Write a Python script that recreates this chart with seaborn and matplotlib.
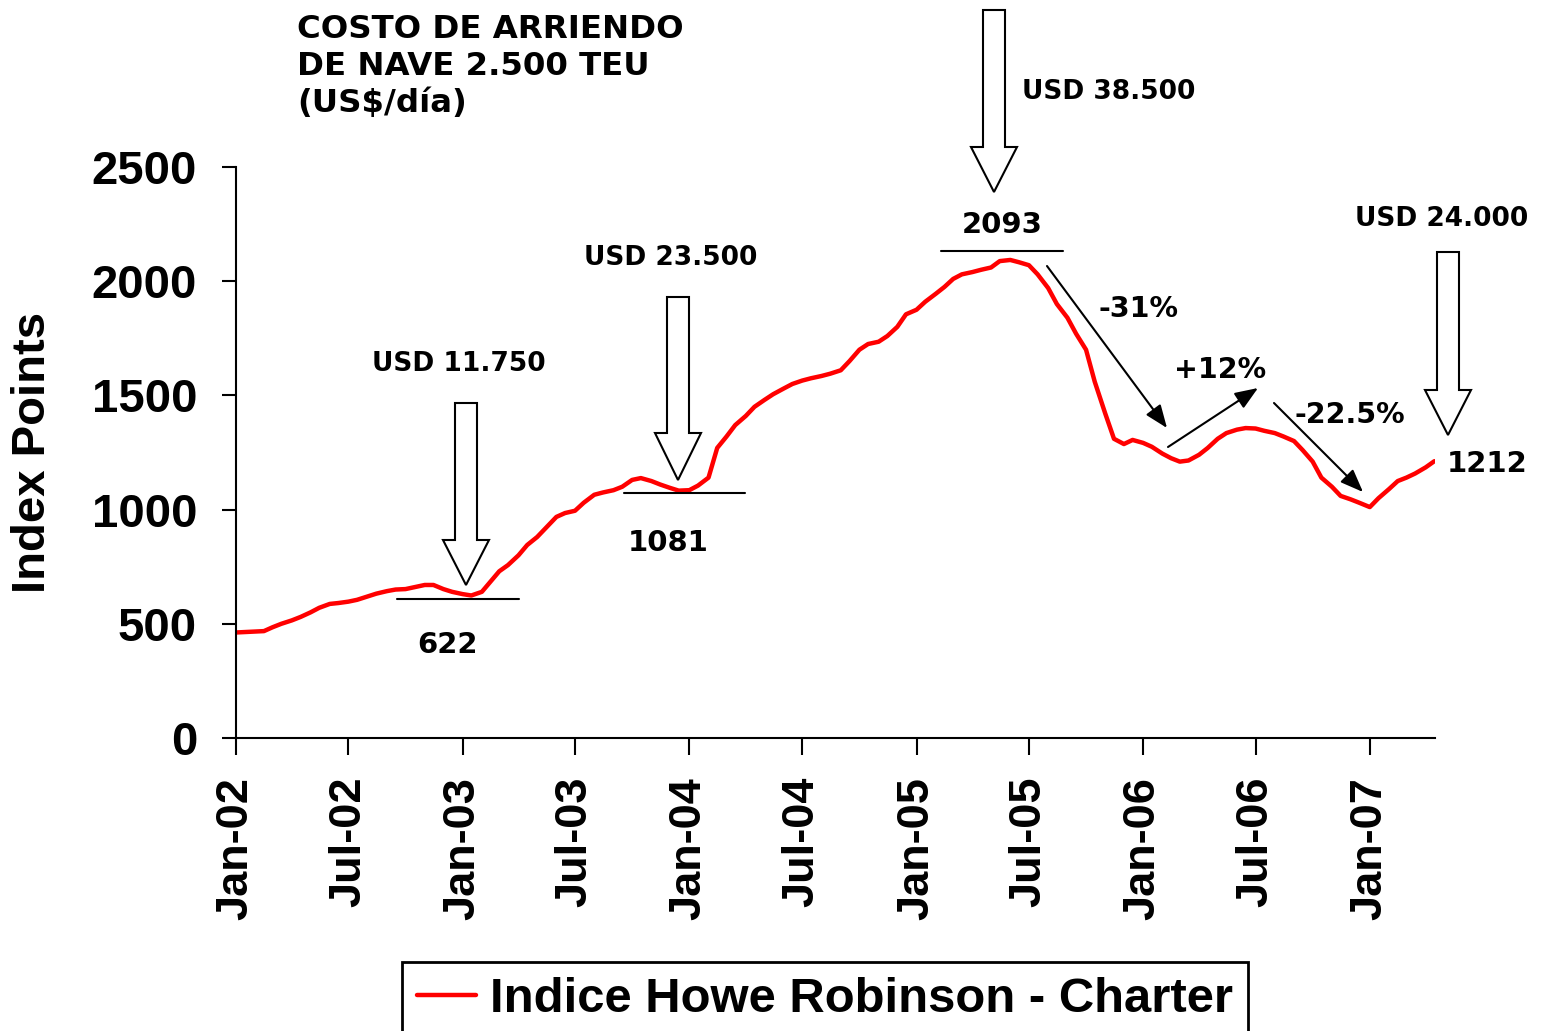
import pandas as pd
import matplotlib
matplotlib.use("Agg")
import matplotlib.pyplot as plt
import matplotlib.dates as mdates
from matplotlib.patches import Polygon
import seaborn as sns

# semi-monthly readings of the Howe Robinson charter index, Jan-2002 .. mid Apr-2007
dates = pd.date_range("2002-01-01", periods=128, freq="SMS")
index_2002 = [462, 464, 466, 468, 485, 500, 515, 530, 550, 570, 587, 591,
              597, 605, 620, 632, 643, 650, 652, 660, 670, 670, 652, 640]
index_2003 = [630, 624, 640, 685, 730, 757, 800, 845, 880, 920, 968, 985,
              995, 1030, 1065, 1075, 1085, 1100, 1130, 1138, 1125, 1110, 1095, 1083]
index_2004 = [1085, 1105, 1140, 1270, 1320, 1370, 1410, 1450, 1480, 1505, 1530, 1550,
              1565, 1575, 1585, 1595, 1610, 1650, 1700, 1725, 1735, 1760, 1800, 1855]
index_2005 = [1875, 1910, 1945, 1975, 2010, 2030, 2040, 2050, 2060, 2088, 2093, 2083,
              2070, 2030, 1970, 1900, 1840, 1770, 1700, 1560, 1420, 1310, 1287, 1305]
index_2006 = [1292, 1275, 1245, 1225, 1210, 1215, 1240, 1270, 1310, 1335, 1350, 1357,
              1355, 1345, 1335, 1320, 1300, 1260, 1210, 1140, 1100, 1060, 1045, 1030]
index_2007 = [1011, 1050, 1090, 1125, 1140, 1158, 1185, 1212]
index_points = index_2002 + index_2003 + index_2004 + index_2005 + index_2006 + index_2007

series_label = "Indice Howe Robinson - Charter"
title_text = "COSTO DE ARRIENDO\nDE NAVE 2.500 TEU\n(US$/día)"
y_ticks = [0, 500, 1000, 1500, 2000, 2500]
x_ticks = pd.date_range("2002-01-01", "2007-01-01", freq="6MS")

W, H = 1546, 1031

sns.set_style("ticks")
plt.rcParams["font.family"] = ["Liberation Sans", "DejaVu Sans"]
plt.rcParams["font.weight"] = "bold"
for key in ["text.color", "axes.labelcolor", "xtick.color", "ytick.color"]:
    plt.rcParams[key] = "black"

fig = plt.figure(figsize=(W / 100, H / 100), dpi=100)
ax = fig.add_axes([236 / W, 1 - 738 / H, (1435 - 236) / W, (738 - 167) / H])

df = pd.DataFrame({"date": dates, "index": index_points})
sns.lineplot(data=df, x="date", y="index", color="#ff0000", linewidth=3.2,
             label=series_label, ax=ax, legend=False)

ax.set_ylim(0, 2500)
ax.set_xlim(pd.Timestamp("2002-01-01"), pd.Timestamp("2007-04-16"))
ax.set_yticks(y_ticks)
ax.set_xticks(x_ticks)
ax.xaxis.set_major_formatter(mdates.DateFormatter("%b-%y"))
ax.tick_params(axis="y", labelsize=34, length=10, width=1.5, pad=18)
ax.tick_params(axis="x", labelsize=32.5, length=12, width=1.5, pad=16,
               labelrotation=90)
for lab in ax.get_xticklabels() + ax.get_yticklabels():
    lab.set_fontweight("bold")
ax.set_xlabel("")
ax.set_ylabel("")
sns.despine(ax=ax)
for side in ["left", "bottom"]:
    ax.spines[side].set_linewidth(1.5)
    ax.spines[side].set_color("black")


def fpx(x, y):
    # reference pixel (top-left origin) -> figure fraction
    return (x / W, 1 - y / H)


fig.text(*fpx(33, 452), "Index Points", rotation=90, ha="center", va="center",
         fontsize=34, fontweight="bold")

# legend box
leg = fig.legend(handles=ax.get_lines()[:1], labels=[series_label],
                 loc="upper left", bbox_to_anchor=(402 / W, 1 - 962 / H),
                 frameon=True, fancybox=False, framealpha=1, fontsize=35.3,
                 handlelength=1.2, handletextpad=0.3, borderpad=0.3,
                 borderaxespad=0)
leg.get_frame().set_edgecolor("black")
leg.get_frame().set_linewidth(2)
for t in leg.get_texts():
    t.set_fontweight("bold")
    t.set_color("black")

ann = dict(family="DejaVu Sans", fontweight="bold", color="black")

fig.text(*fpx(297, 14), title_text, fontsize=23.3, ha="left", va="top",
         linespacing=1.25, **ann)

# hollow block arrows pointing at the price levels
def block_arrow(cx, top, shaft_end, tip):
    sw, hw = 11, 23
    pts = [(cx - sw, top), (cx + sw, top), (cx + sw, shaft_end), (cx + hw, shaft_end),
           (cx, tip), (cx - hw, shaft_end), (cx - sw, shaft_end)]
    fig.patches.append(Polygon([fpx(x, y) for x, y in pts], closed=True,
                               facecolor="white", edgecolor="black", linewidth=1.5,
                               transform=fig.transFigure, figure=fig, zorder=5))


block_arrow(466, 403, 540, 585)
block_arrow(678, 297, 433, 480)
block_arrow(994, 10, 147, 192)
block_arrow(1448, 252, 390, 435)

# short level lines under/over the turning points
for x0, x1, y in [(397, 519, 599), (624, 745, 493), (941, 1063, 251)]:
    fig.add_artist(plt.Line2D([x0 / W, x1 / W], [1 - y / H, 1 - y / H],
                              color="black", linewidth=1.5, transform=fig.transFigure))

labels = [
    ("USD 11.750", 459, 364, "center", 19),
    ("USD 23.500", 671, 258, "center", 19),
    ("USD 38.500", 1022, 92, "left", 19),
    ("USD 24.000", 1442, 219, "center", 19),
    ("2093", 1002, 225, "center", 21),
    ("1081", 668, 543, "center", 21),
    ("622", 447, 645, "center", 21),
    ("1212", 1447, 464, "left", 21),
    ("-31%", 1139, 309, "center", 20.5),
    ("+12%", 1220, 370, "center", 20.5),
    ("-22.5%", 1350, 415, "center", 20.5),
]
for txt, x, y, ha, fs in labels:
    fig.text(*fpx(x, y), txt, fontsize=fs, ha=ha, va="center", **ann)

# trend arrows
for (x0, y0), (x1, y1) in [((1047, 266), (1167, 428)),
                           ((1168, 447), (1258, 388)),
                           ((1274, 403), (1363, 492))]:
    ax.annotate("", xy=(x1, H - y1), xytext=(x0, H - y0),
                xycoords="figure pixels", textcoords="figure pixels",
                arrowprops=dict(arrowstyle="-|>,head_length=1.4,head_width=0.55",
                                color="black", lw=1.5, shrinkA=0, shrinkB=0),
                annotation_clip=False)

fig.savefig("out.png", dpi=100)
